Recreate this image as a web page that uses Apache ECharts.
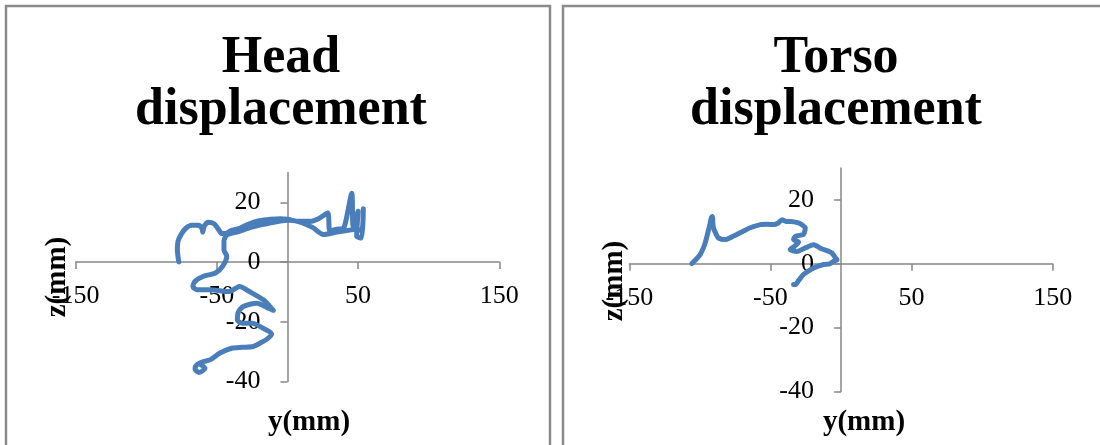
<!DOCTYPE html>
<html><head><meta charset="utf-8">
<script src="https://cdn.jsdelivr.net/npm/echarts@6/dist/echarts.min.js"></script>
<style>html,body{margin:0;padding:0;background:#fff}#c{width:1100px;height:445px}</style>
</head><body><div id="c"></div>
<script>
// Head trajectory (y, z in mm)
const headY = [-77,-78,-77.5,-75,-72,-68,-63,-60.5,-60,-59,-56,-52,-49,-46.5,-44,-40,-34,-27,-20,-12,-5,0,8,16,22,28.5,30,35,40,45.5,46.5,50,49,52.5,53.7,52.5,48,42,35,25.4,18,10,2,-8,-18,-28,-36,-43,-45,-45,-43,-46,-51,-59.5,-65.5,-67,-64,-55,-41,-34,-27,-17,-12.5,-10,-14,-21.8,-31.3,-35,-35.5,-32,-25,-18,-11.2,-15,-19.5,-24.2,-32,-39.5,-47.8,-54.9,-59.6,-64.3,-65.5,-62.5,-58.4,-62];
const headZ = [0,4,7,9.5,11.3,12.3,12.3,11.2,10,12,13.3,12.8,11,9.5,9.5,10.5,11.3,12.8,13.8,14.3,14.5,14.3,13.6,13.6,14.5,16.4,10.5,11,11.5,23,12,17,8.6,8,17.8,10.5,11,10.5,10,9.2,11.5,13.2,14,13.5,12.5,11.3,10,9,7,4,2,-1.5,-3.7,-4.8,-6.5,-8.2,-9.3,-9.3,-9.9,-8.2,-9.9,-12.7,-14.9,-16.2,-15.4,-13.8,-14.9,-17,-19.5,-20.5,-20.5,-22,-24.1,-26,-27.2,-28.3,-28.6,-28.9,-30.5,-32.8,-33.4,-34.5,-35.9,-37,-35.6,-34.2];
// Torso trajectory (y, z in mm)
const torsoY = [-105.7,-102.5,-99.8,-97.5,-96.2,-94.5,-92.7,-91.8,-91.2,-90.8,-90.4,-88.5,-86.8,-82.1,-78,-73.8,-69,-64.3,-57.2,-52,-47.8,-44.5,-41.8,-39,-36,-30.1,-27,-25.3,-25.8,-26.5,-32.4,-33.6,-30.1,-33,-36,-31.2,-25.3,-19.4,-15,-12.3,-8,-6.4,-4,-2.8,-5.2,-8,-12.3,-19.4,-26.5,-30,-32.4,-33.6];
const torsoZ = [0.1,1.5,2.9,5,6.6,9.5,12.8,14.5,14.8,13,11.3,9.3,8.1,7.6,8.3,9.2,10.3,11.3,12.3,12.4,12.3,12.8,13.8,13.3,13.3,12.8,12,11.3,10,9.2,8.6,7.6,6.8,5.5,4.5,3.9,5,6,5,4.5,3.8,3.4,1.9,1.3,0.8,0,-0.2,-1.3,-3.3,-5.2,-6.5,-6.5];
const xTicks = [-150,-50,50,150];
const zTicks = [-40,-20,0,20];
const xRange = [-150,150];
const zRange = [-40,30];
const titles = ['Head\ndisplacement','Torso\ndisplacement'];
const xName = 'y(mm)', yName = 'z(mm)';

const zip = (a,b) => a.map((v,i)=>[v,b[i]]);
const serif = 'Liberation Serif';
const axisGray = '#868686';
const blue = '#4a7ebb';

const grids = [
  {left:75.7, top:172.4, width:423.6, height:209},
  {left:629.3, top:168.1, width:423.4, height:223.4}
];
// place each axis on the other axis's zero (Excel-style crossing)
function xAx(i){
  const g = grids[i];
  const off = -(0 - zRange[0])/(zRange[1]-zRange[0])*g.height;
  return {
  type:'value', gridIndex:i, min:xRange[0], max:xRange[1], position:'bottom', offset:off,
  axisLine:{show:true,onZero:false,lineStyle:{color:axisGray,width:1.5}},
  axisTick:{show:true,customValues:xTicks,length:7,lineStyle:{color:axisGray,width:1.5}},
  axisLabel:{customValues:xTicks,margin:21,fontFamily:serif,fontSize:26,color:'#000'},
  splitLine:{show:false}
};}
function yAx(i){
  const g = grids[i];
  const off = -(0 - xRange[0])/(xRange[1]-xRange[0])*g.width;
  return {
  type:'value', gridIndex:i, min:zRange[0], max:zRange[1], position:'left', offset:off,
  axisLine:{show:true,onZero:false,lineStyle:{color:axisGray,width:1.5}},
  axisTick:{show:true,customValues:zTicks,length:7,lineStyle:{color:axisGray,width:1.5}},
  axisLabel:{customValues:zTicks,margin:27,fontFamily:serif,fontSize:26,color:'#000'},
  splitLine:{show:false}
};}
function ser(i,y,z){return {
  type:'line', xAxisIndex:i, yAxisIndex:i, data:zip(y,z),
  showSymbol:false, symbol:'none', smooth:0.25, clip:false,
  lineStyle:{color:blue,width:5,cap:'round',join:'round'}
};}
const centers = [281, 836];
const graphic = [
  {type:'rect',shape:{x:6,y:6,width:544,height:470},style:{fill:'none',stroke:'#8a8a8a',lineWidth:2.5},silent:true},
  {type:'rect',shape:{x:563,y:6,width:560,height:470},style:{fill:'none',stroke:'#8a8a8a',lineWidth:2.5},silent:true}
];
titles.forEach((t,i)=>{
  graphic.push({type:'text',x:centers[i],y:33,style:{text:t,align:'center',verticalAlign:'top',fontFamily:serif,fontWeight:'bold',fontSize:52,lineHeight:52,fill:'#000'}});
});
[[309,423],[864,423]].forEach(p=>{
  graphic.push({type:'text',x:p[0],y:p[1],style:{text:xName,align:'center',verticalAlign:'middle',fontFamily:serif,fontWeight:'bold',fontSize:29,fill:'#000'}});
});
[[58,277],[615,281]].forEach(p=>{
  graphic.push({type:'text',x:p[0],y:p[1],rotation:Math.PI/2,style:{text:yName,align:'center',verticalAlign:'middle',fontFamily:serif,fontWeight:'bold',fontSize:29,fill:'#000'}});
});

const chart = echarts.init(document.getElementById('c'));
chart.setOption({
  animation:false,
  backgroundColor:'#fff',
  grid:grids,
  xAxis:[xAx(0),xAx(1)],
  yAxis:[yAx(0),yAx(1)],
  series:[ser(0,headY,headZ),ser(1,torsoY,torsoZ)],
  graphic:graphic
});
</script></body></html>
